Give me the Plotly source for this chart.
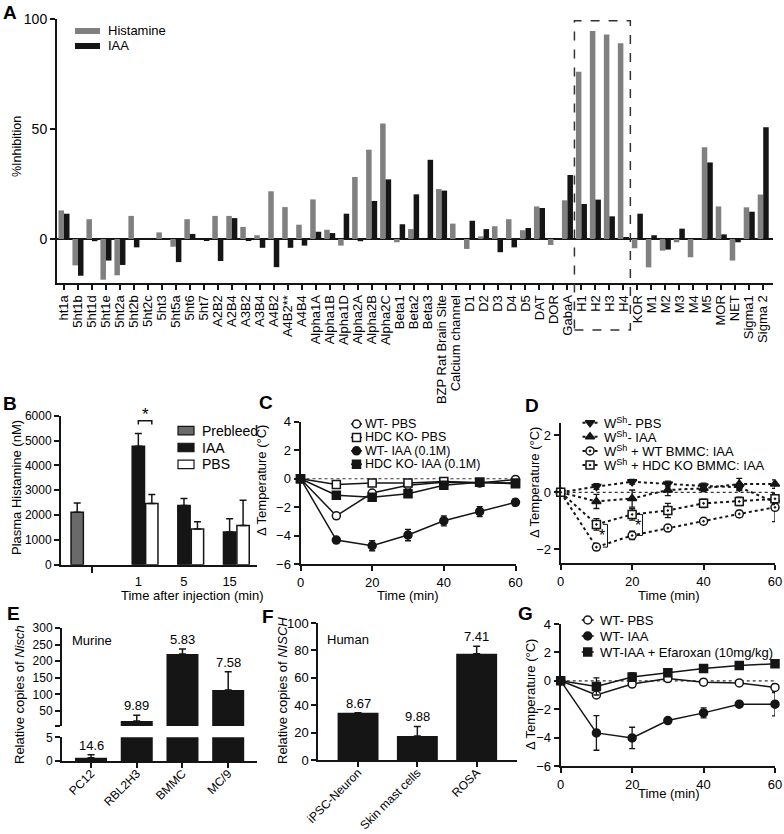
import plotly.graph_objects as go
import numpy as np

W, H = 784, 834
def fx(p): return p / W
def fy(p): return 1 - p / H

FONT = "Liberation Sans, Arial, sans-serif"
BLACK = "#151515"
GRAY_A = "#808080"
GRAY_B = "#6a6a6a"

# ---------------- Panel A data ----------------
receptors = ["ht1a", "5ht1b", "5ht1d", "5ht1e", "5ht2a", "5ht2b", "5ht2c", "5ht3", "5ht5a", "5ht6",
             "5ht7", "A2B2", "A2B4", "A3B2", "A3B4", "A4B2", "A4B2**", "A4B4", "Alpha1A", "Alpha1B",
             "Alpha1D", "Alpha2A", "Alpha2B", "Alpha2C", "Beta1", "Beta2", "Beta3", "BZP Rat Brain Site",
             "Calcium channel", "D1", "D2", "D3", "D4", "D5", "DAT", "DOR", "GabaA", "H1", "H2", "H3", "H4",
             "KOR", "M1", "M2", "M3", "M4", "M5", "MOR", "NET", "Sigma1", "Sigma 2"]
histamine_inh = [13, -12, 9, -18.5, -16.5, 10.5, 0, 3, -3.5, 9,
                 0, 10.5, 10.5, 5.5, 1.7, 21.7, 14.5, 6.5, 18, 4.2,
                 -3, 28.2, 40.6, 52.5, -1.5, 4.5, 0, 22.7,
                 7, -4.5, 1.2, 5.8, 9, 4, 14.8, -2.7, 17.6, 76, 94.5, 93, 89,
                 -4.2, -12.9, -5.3, -1.5, -8.3, 41.7, 14.8, -9.8, 14.4, 20.2]
iaa_inh = [11.5, -16.7, -1, -9.8, -11.8, -3.8, 0, 0, -10.5, 2.3,
           -0.8, -10, 9.5, -0.5, -4, -12.8, -4, -3, 3.3, 2.7,
           11.5, -1, 17.3, 27.1, 6.7, 20.3, 36, 22,
           -0.3, 8.3, 4.5, -6, -3.8, 5, 14.1, 0, 29.1, 15.9, 17.9, 10.3, 0.9,
           11.5, 1.7, -4.8, 4.7, 0, 34.8, 2.1, -1.5, 12.4, 50.8]
a_series = ["Histamine", "IAA"]

# ---------------- Panel B data ----------------
b_series = ["Prebleed", "IAA", "PBS"]
time_groups = ["1", "5", "15"]
prebleed_mean = [2110]
prebleed_sem = [370]
iaa_hist = [4770, 2380, 1320]
iaa_hist_sem = [510, 290, 530]
pbs_hist = [2460, 1440, 1580]
pbs_hist_sem = [370, 290, 1020]

# ---------------- Panel C data ----------------
time_min = [0, 10, 20, 30, 40, 50, 60]
c_series = ["WT- PBS", "HDC KO- PBS", "WT- IAA (0.1M)", "HDC KO- IAA (0.1M)"]
c_wt_pbs = [0, -2.6, -1.0, -0.45, -0.25, -0.3, -0.05]
c_wt_pbs_err = [0, 0.2, 0.15, 0.15, 0.1, 0.1, 0.1]
c_hdc_pbs = [0, -0.4, -0.3, -0.3, -0.2, -0.25, -0.35]
c_hdc_pbs_err = [0, 0.1, 0.1, 0.1, 0.1, 0.1, 0.15]
c_wt_iaa = [0, -4.3, -4.7, -3.95, -2.95, -2.3, -1.65]
c_wt_iaa_err = [0, 0.1, 0.35, 0.4, 0.35, 0.35, 0.25]
c_hdc_iaa = [0, -1.15, -1.3, -1.05, -0.45, -0.25, -0.3]
c_hdc_iaa_err = [0, 0.2, 0.15, 0.2, 0.1, 0.1, 0.1]

# ---------------- Panel D data ----------------
d_series = ["W<sup>Sh</sup>- PBS", "W<sup>Sh</sup>- IAA", "W<sup>Sh</sup> + WT BMMC: IAA",
            "W<sup>Sh</sup> + HDC KO BMMC: IAA"]
d_wsh_pbs = [0, 0.2, 0.37, 0.29, 0.22, 0.18, -0.35]
d_wsh_pbs_err = [0, 0.1, 0.08, 0.1, 0.1, 0.12, 0.1]
d_wsh_iaa = [0, -0.32, -0.22, 0.08, 0.14, 0.29, 0.29]
d_wsh_iaa_err = [0, 0.25, 0.3, 0.2, 0.12, 0.2, 0.15]
d_wt_bmmc = [0, -1.93, -1.52, -1.26, -1.02, -0.76, -0.53]
d_wt_bmmc_err = [0, 0.1, 0.15, 0.1, 0.1, 0.12, 0.5]
d_hdc_bmmc = [0, -1.13, -0.78, -0.64, -0.39, -0.32, -0.23]
d_hdc_bmmc_err = [0, 0.2, 0.2, 0.25, 0.15, 0.15, 0.2]

# ---------------- Panel E data ----------------
murine_cells = ["PC12", "RBL2H3", "BMMC", "MC/9"]
nisch_murine = [0.7, 20, 222, 113]
nisch_murine_sem = [0.6, 17, 15, 55]
murine_ct = ["14.6", "9.89", "5.83", "7.58"]

# ---------------- Panel F data ----------------
human_cells = ["iPSC-Neuron", "Skin mast cells", "ROSA"]
nisch_human = [34.5, 17.5, 77.5]
nisch_human_sem = [0, 7, 5.5]
human_ct = ["8.67", "9.88", "7.41"]

# ---------------- Panel G data ----------------
g_series = ["WT- PBS", "WT- IAA", "WT-IAA + Efaroxan (10mg/kg)"]
g_wt_pbs = [0, -1.0, -0.23, 0.16, -0.1, -0.15, -0.47]
g_wt_pbs_err = [0, 0.12, 0.1, 0.1, 0.2, 0.1, 0.25]
g_wt_iaa = [0, -3.67, -4.02, -2.8, -2.26, -1.65, -1.65]
g_wt_iaa_err = [0, 1.22, 0.75, 0.1, 0.35, 0.1, 0.82]
g_efa = [0, -0.4, 0.26, 0.56, 0.87, 1.08, 1.2]
g_efa_err = [0, 0.6, 0.3, 0.2, 0.1, 0.1, 0.1]

fig = go.Figure()
ann = []
shapes = []

# ---- A ----
fig.add_trace(go.Bar(x=receptors, y=histamine_inh, marker=dict(color=GRAY_A, line_width=0),
                     name=a_series[0], xaxis="x", yaxis="y", offsetgroup="a1"))
fig.add_trace(go.Bar(x=receptors, y=iaa_inh, marker=dict(color=BLACK, line_width=0),
                     name=a_series[1], xaxis="x", yaxis="y", offsetgroup="a2"))

# ---- B ----
bw = 0.27
grp = np.arange(len(time_groups))
pbs_shift = 0.295
pre_pos = [-1.34]
errb = dict(type="data", symmetric=False, color=BLACK, thickness=1.5, width=3.5)
b_fills = [GRAY_B, BLACK, "white"]
fig.add_trace(go.Bar(x=pre_pos, y=prebleed_mean, width=bw, offset=-bw / 2, name=b_series[0],
                     marker=dict(color=b_fills[0], line=dict(color=BLACK, width=1.5)),
                     error_y=dict(errb, array=prebleed_sem, arrayminus=[0]), xaxis="x2", yaxis="y2"))
fig.add_trace(go.Bar(x=grp, y=iaa_hist, width=bw, offset=-bw / 2, name=b_series[1],
                     marker=dict(color=b_fills[1], line=dict(color=BLACK, width=1.5)),
                     error_y=dict(errb, array=iaa_hist_sem, arrayminus=[0] * 3), xaxis="x2", yaxis="y2"))
fig.add_trace(go.Bar(x=grp + pbs_shift, y=pbs_hist, width=bw, offset=-bw / 2, name=b_series[2],
                     marker=dict(color=b_fills[2], line=dict(color=BLACK, width=1.5)),
                     error_y=dict(errb, array=pbs_hist_sem, arrayminus=[0] * 3), xaxis="x2", yaxis="y2"))

# ---- line panels ----
def line_trace(y, err, name, sym, fill, xa, ya, dash="solid", lw=1.5, size=8):
    return go.Scatter(x=time_min, y=y, mode="lines+markers", name=name,
                      line=dict(color=BLACK, width=lw, dash=dash),
                      marker=dict(symbol=sym, size=size, color=fill, line=dict(color=BLACK, width=1.5)),
                      error_y=dict(type="data", array=err, color=BLACK, thickness=1.3, width=3),
                      cliponaxis=False, xaxis=xa, yaxis=ya)

c_style = [("circle", "white"), ("square", "white"), ("circle", BLACK), ("square", BLACK)]
for nm, (ys, es), (sym, fill) in zip(c_series, [(c_wt_pbs, c_wt_pbs_err), (c_hdc_pbs, c_hdc_pbs_err),
                                                  (c_wt_iaa, c_wt_iaa_err), (c_hdc_iaa, c_hdc_iaa_err)], c_style):
    fig.add_trace(line_trace(ys, es, nm, sym, fill, "x3", "y3"))

d_style = [("triangle-down", BLACK), ("triangle-up", BLACK), ("circle-dot", "white"), ("square-dot", "white")]
for nm, (ys, es), (sym, fill) in zip(d_series, [(d_wsh_pbs, d_wsh_pbs_err), (d_wsh_iaa, d_wsh_iaa_err),
                                                  (d_wt_bmmc, d_wt_bmmc_err), (d_hdc_bmmc, d_hdc_bmmc_err)], d_style):
    fig.add_trace(line_trace(ys, es, nm, sym, fill, "x4", "y4", dash="dot", lw=2))

g_style = [("circle", "white"), ("circle", BLACK), ("square", BLACK)]
for nm, (ys, es), (sym, fill) in zip(g_series, [(g_wt_pbs, g_wt_pbs_err), (g_wt_iaa, g_wt_iaa_err),
                                                  (g_efa, g_efa_err)], g_style):
    fig.add_trace(line_trace(ys, es, nm, sym, fill, "x8", "y8"))

# ---- E (broken axis: same bars on two stacked subplots) ----
ebw = 0.7
for xa, ya in [("x5", "y5"), ("x6", "y6")]:
    fig.add_trace(go.Bar(x=murine_cells, y=nisch_murine, width=ebw, offset=-ebw / 2,
                         marker=dict(color=BLACK, line_width=0),
                         error_y=dict(errb, array=nisch_murine_sem, arrayminus=[0] * 4),
                         xaxis=xa, yaxis=ya))

# ---- F ----
fbw = 0.69
fig.add_trace(go.Bar(x=human_cells, y=nisch_human, width=fbw, offset=-fbw / 2,
                     marker=dict(color=BLACK, line_width=0),
                     error_y=dict(errb, array=nisch_human_sem, arrayminus=[0] * 3),
                     xaxis="x7", yaxis="y7"))

# ---------------- compact legends (drawn on a full-figure pixel overlay axis) ----------------
def txt(x, y, s, size=13, angle=0, bold=False, xanchor="center", yanchor="middle"):
    ann.append(dict(x=fx(x), y=fy(y), xref="paper", yref="paper", text=f"<b>{s}</b>" if bold else s,
                    showarrow=False, textangle=angle, xanchor=xanchor, yanchor=yanchor,
                    font=dict(size=size, family=FONT, color="black")))

def line_legend(names, styles, xc, half, y0, dy, text_x, dash="solid", lw=1.5, size=13):
    for i, (nm, (sym, fill)) in enumerate(zip(names, styles)):
        yy = y0 + i * dy
        fig.add_trace(go.Scatter(x=[xc - half, xc + half], y=[yy, yy], mode="lines",
                                 line=dict(color=BLACK, width=lw, dash=dash), hoverinfo="skip",
                                 cliponaxis=False, xaxis="x9", yaxis="y9"))
        fig.add_trace(go.Scatter(x=[xc], y=[yy], mode="markers", hoverinfo="skip", cliponaxis=False,
                                 marker=dict(symbol=sym, size=8, color=fill, line=dict(color=BLACK, width=1.5)),
                                 xaxis="x9", yaxis="y9"))
        txt(text_x, yy, nm, size=size, xanchor="left")

def box_legend(names, fills, x0, x1, y0, dy, hh, text_x, outline, size=13):
    for i, (nm, col) in enumerate(zip(names, fills)):
        yy = y0 + i * dy
        shapes.append(dict(type="rect", xref="paper", yref="paper", x0=fx(x0), x1=fx(x1),
                           y0=fy(yy + hh / 2), y1=fy(yy - hh / 2), fillcolor=col,
                           line=dict(color=BLACK, width=1.2 if outline else 0)))
        txt(text_x, yy, nm, size=size, xanchor="left")

box_legend(a_series, [GRAY_A, BLACK], 75, 100, 31, 15, 6, 106, False, size=13)
box_legend(b_series, b_fills, 178, 194, 430.7, 16.8, 8.5, 200, True, size=14)
line_legend(c_series, c_style, 356.5, 5.5, 424, 13.4, 363, size=12.5)
line_legend(d_series, d_style, 590, 7.5, 422.7, 14.1, 601.5, dash="dot", lw=2, size=13)
line_legend(g_series, g_style, 587.7, 6, 620, 16, 598, size=13)

# ---------------- axes ----------------
def ax(domain, **kw):
    d = dict(domain=domain, showline=True, linecolor=BLACK, linewidth=2, ticks="outside", ticklen=5,
             tickwidth=2, tickcolor=BLACK, showgrid=False, zeroline=False, automargin=False,
             tickfont=dict(size=13, color="black", family=FONT), fixedrange=True)
    d.update(kw)
    return d

tf12 = dict(size=12, color="black", family=FONT)
layout_axes = dict(
    xaxis=ax([fx(57), fx(773)], anchor="y", type="category", range=[-0.5, 50.7], tickangle=-90,
             tickmode="array", tickvals=receptors, ticktext=receptors),
    yaxis=ax([fy(283), fy(19)], anchor="x", range=[-20, 100], tickvals=[0, 50, 100],
             zeroline=True, zerolinecolor=BLACK, zerolinewidth=2, tickfont=dict(size=14, color="black", family=FONT)),
    xaxis2=ax([fx(61), fx(257)], anchor="y2", range=[-1.695, 2.6], tickvals=list(grp), ticktext=time_groups,
              tickcolor="rgba(0,0,0,0)", ticklen=4,
              minor=dict(tickmode="array", tickvals=[-1.02], ticks="outside", ticklen=6, tickwidth=2, tickcolor=BLACK)),
    yaxis2=ax([fy(564.7), fy(415.7)], anchor="x2", range=[0, 6000], dtick=1000, tickfont=tf12),
    xaxis3=ax([fx(300.5), fx(515.5)], anchor="y3", range=[0, 60], tickvals=[0, 20, 40, 60]),
    yaxis3=ax([fy(564.3), fy(421.7)], anchor="x3", range=[-6, 4], dtick=2),
    xaxis4=ax([fx(560.7), fx(775)], anchor="y4", range=[0, 60], tickvals=[0, 20, 40, 60]),
    yaxis4=ax([fy(563.3), fy(422.7)], anchor="x4", range=[-2.5, 2.45], tickvals=[-2, 0, 2]),
    xaxis5=ax([fx(62), fx(257)], anchor="y5", type="category", range=[-0.635, 3.63], visible=False),
    yaxis5=ax([fy(726), fy(628)], anchor="x5", range=[5, 300], tickvals=[5, 50, 100, 150, 200, 250, 300],
              ticktext=["", "50", "100", "150", "200", "250", "300"], tickfont=tf12),
    xaxis6=ax([fx(62), fx(257)], anchor="y6", type="category", range=[-0.635, 3.63], tickangle=-45,
              tickfont=tf12, ticklabelstandoff=-6),
    yaxis6=ax([fy(761), fy(737.3)], anchor="x6", range=[0, 5], tickvals=[0, 5], tickfont=tf12),
    xaxis7=ax([fx(318.3), fx(517)], anchor="y7", type="category", range=[-0.67, 2.68], tickangle=-45,
              tickfont=tf12, ticklabelstandoff=-6),
    yaxis7=ax([fy(760), fy(623)], anchor="x7", range=[0, 100], dtick=20),
    xaxis8=ax([fx(560.7), fx(775)], anchor="y8", range=[0, 60], tickvals=[0, 20, 40, 60]),
    yaxis8=ax([fy(766), fy(624)], anchor="x8", range=[-6, 4], dtick=2),
    xaxis9=dict(domain=[0, 1], range=[0, W], visible=False, fixedrange=True, anchor="y9"),
    yaxis9=dict(domain=[0, 1], range=[H, 0], visible=False, fixedrange=True, anchor="x9"),
)

# ---------------- annotations ----------------
for letter, (lx, ly) in {"A": (10, 12.5), "B": (9.5, 403.5), "C": (265.5, 402.5), "D": (531.5, 405),
                         "E": (13.5, 613), "F": (267.5, 616.5), "G": (525, 613)}.items():
    txt(lx, ly, letter, size=19, bold=True)

txt(17, 147, "%Inhibition", size=12.5, angle=-90)
txt(16, 488, "Plasma Histamine (nM)", size=13, angle=-90)
txt(192, 595, "Time after injection (min)", size=13)
txt(261, 481, "Δ Temperature (°C)", size=13, angle=-90)
txt(408, 595, "Time (min)", size=13)
txt(535, 483, "Δ Temperature (°C)", size=13, angle=-90)
txt(669, 595, "Time (min)", size=13)
txt(19, 695, "Relative copies of <i>Nisch</i>", size=13, angle=-90)
txt(282, 691, "Relative copies of <i>NISCH</i>", size=13, angle=-90)
txt(530, 695, "Δ Temperature (°C)", size=13, angle=-90)
txt(669, 793, "Time (min)", size=13)
txt(92, 640, "Murine", size=13)
txt(348, 639, "Human", size=13)

for cell, v, e, ct in zip(murine_cells, nisch_murine, nisch_murine_sem, murine_ct):
    upper = v > 5
    ann.append(dict(x=cell, y=v + e, xref="x5" if upper else "x6", yref="y5" if upper else "y6",
                    text=ct, showarrow=False, yanchor="bottom", yshift=0,
                    font=dict(size=13, family=FONT, color="black")))
for cell, v, e, ct in zip(human_cells, nisch_human, nisch_human_sem, human_ct):
    ann.append(dict(x=cell, y=v + e, xref="x7", yref="y7", text=ct, showarrow=False, yanchor="bottom",
                    yshift=0, font=dict(size=13, family=FONT, color="black")))

# significance stars
ann.append(dict(x=pbs_shift / 2, y=5800, xref="x2", yref="y2", text="*", showarrow=False, yanchor="bottom",
                yshift=-5, font=dict(size=17, family=FONT, color="black")))
ann.append(dict(x=11.6, y=-1.52, xref="x4", yref="y4", text="*", showarrow=False,
                font=dict(size=16, family=FONT, color="black")))
ann.append(dict(x=21.7, y=-1.17, xref="x4", yref="y4", text="*", showarrow=False,
                font=dict(size=16, family=FONT, color="black")))

# ---------------- shapes ----------------
h_lo, h_hi = receptors.index("H1") - 0.5, receptors.index("H4") + 0.5
shapes.append(dict(type="rect", xref="x", yref="paper", x0=h_lo, x1=h_hi, y0=fy(330), y1=fy(20.7),
                   line=dict(color="#333333", width=1.5, dash="dash"), fillcolor="rgba(0,0,0,0)"))
for xa, ya in [("x3", "y3"), ("x4", "y4"), ("x8", "y8")]:
    shapes.append(dict(type="line", xref=xa, yref=ya, x0=0, x1=60, y0=0, y1=0, layer="below",
                       line=dict(color="#333333", width=1.2, dash="dot")))
# B bracket
shapes.append(dict(type="path", xref="x2", yref="y2",
                   path=f"M 0,5650 L 0,5800 L {pbs_shift},5800 L {pbs_shift},5650",
                   line=dict(color=BLACK, width=1.5)))
# D brackets
shapes.append(dict(type="path", xref="x4", yref="y4",
                   path=f"M 11.8,{d_hdc_bmmc[1]} L 13.1,{d_hdc_bmmc[1]} L 13.1,{d_wt_bmmc[1]} L 11.8,{d_wt_bmmc[1]}",
                   line=dict(color=BLACK, width=1)))
shapes.append(dict(type="path", xref="x4", yref="y4",
                   path=f"M 21.3,{d_hdc_bmmc[2]} L 22.9,{d_hdc_bmmc[2]} L 22.9,{d_wt_bmmc[2]} L 21.3,{d_wt_bmmc[2]}",
                   line=dict(color=BLACK, width=1)))

fig.update_layout(
    template="none", showlegend=False,
    width=W, height=H, margin=dict(l=0, r=0, t=0, b=0, pad=0), autosize=False,
    paper_bgcolor="white", plot_bgcolor="rgba(0,0,0,0)",
    font=dict(family=FONT, color="black", size=13),
    barmode="group", bargap=0.21, bargroupgap=0,
    annotations=ann, shapes=shapes,
    **layout_axes,
)

fig.write_html("out.html", config={"displayModeBar": False},
               post_script="document.body.style.margin='0';document.body.style.overflow='hidden';")
